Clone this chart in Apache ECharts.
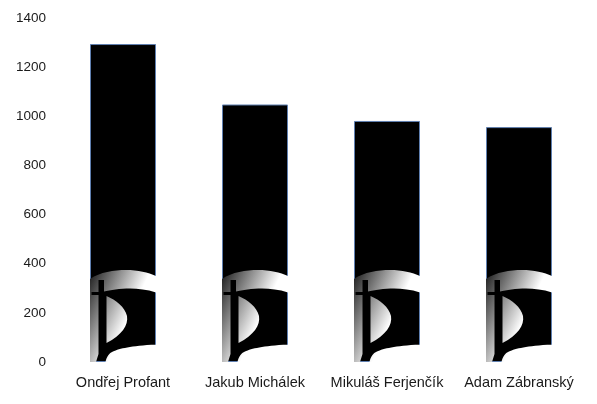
<!DOCTYPE html>
<html>
<head>
<meta charset="utf-8">
<script src="https://cdn.jsdelivr.net/npm/echarts@6/dist/echarts.min.js"></script>
<style>html,body{margin:0;padding:0;background:#fff}#c{width:597px;height:404px}</style>
</head>
<body>
<div id="c"></div>
<script>
var categories = ['Ondřej Profant', 'Jakub Michálek', 'Mikuláš Ferjenčík', 'Adam Zábranský'];
var votes = [1294, 1048, 981, 956];
var yTicks = [0, 200, 400, 600, 800, 1000, 1200, 1400];

// pirate flag logo: light gradient area with the flag cut out and the D-shape filled again
var logoPath = 'path://' +
  'M0 9 C10 2 24 0 36 0 C48 0 58 2.5 66 6 L66 92 L0 92 Z ' +
  'M8.5 10 L8.5 22 L1.5 22 L1.5 25 L8.5 25 L8.5 84 L6 92 L15.5 92 C16.5 87 19 83 23 81.5 C30 78.5 40 76 66 74.5 L66 22.5 C57 19.5 48 18.5 40 18.5 C30 18.5 20 20 14 21.5 L14 10 Z ' +
  'M16.5 26 C26 30 35 37 37 46 C38.5 55 32 65 16.5 73 Z';

var chart = echarts.init(document.getElementById('c'));
chart.setOption({
  animation: false,
  grid: {left: 57, right: 12, top: 18, bottom: 42},
  xAxis: {
    type: 'category',
    data: categories,
    axisLine: {show: false},
    axisTick: {show: false},
    axisLabel: {color: '#1a1a1a', fontSize: 14.5, fontFamily: 'Liberation Sans', margin: 13, interval: 0}
  },
  yAxis: {
    type: 'value',
    min: yTicks[0],
    max: yTicks[yTicks.length - 1],
    interval: 200,
    splitLine: {show: false},
    axisLine: {show: false},
    axisTick: {show: false},
    axisLabel: {color: '#1a1a1a', fontSize: 13.5, fontFamily: 'Liberation Sans', margin: 11,
      formatter: function (v) { return String(v); }}
  },
  series: [
    {
      type: 'bar',
      data: votes,
      barWidth: '50%',
      barGap: '-100%',
      itemStyle: {color: '#000', borderColor: '#5f7fb0', borderWidth: 1}
    },
    {
      type: 'pictorialBar',
      data: votes,
      barWidth: '50%',
      barGap: '-100%',
      symbol: logoPath,
      symbolSize: [66, 92],
      symbolPosition: 'start',
      symbolKeepAspect: false,
      z: 3,
      itemStyle: {
        color: {
          type: 'linear', x: 0, y: 0.11, x2: 0.6, y2: 0.5,
          colorStops: [{offset: 0, color: '#2a2a2a'}, {offset: 1, color: '#ffffff'}]
        }
      }
    }
  ]
});
</script>
</body>
</html>
